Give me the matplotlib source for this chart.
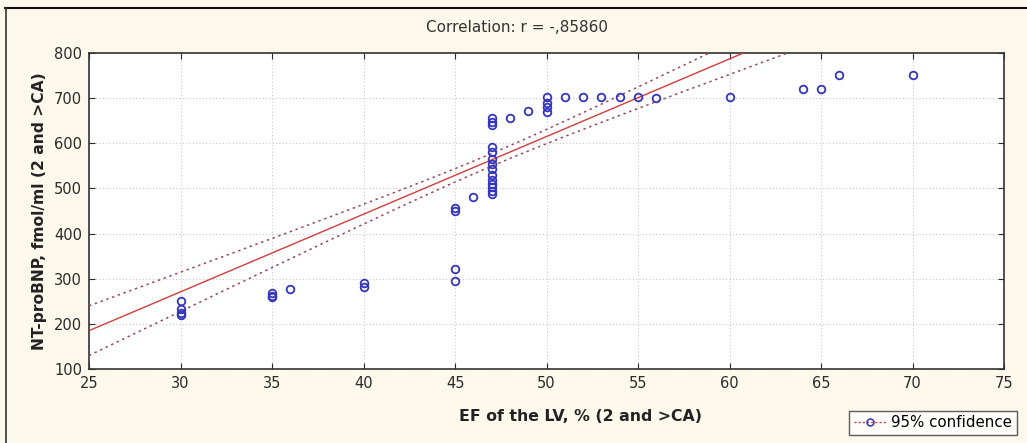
import numpy as np
import matplotlib.pyplot as plt
from matplotlib.lines import Line2D

plt.rcParams['font.family'] = ['DejaVu Sans']

# EF of the LV (%) and NT-proBNP (fmol/ml)
ef = [30, 30, 30, 30,
      35, 35, 35, 36,
      40, 40,
      45, 45, 45, 45, 46,
      47, 47, 47, 47, 47, 47, 47, 47, 47, 47, 47, 47, 47, 47,
      48, 49,
      50, 50, 50, 50,
      51, 52, 53, 54, 55, 56,
      60, 64, 65, 66, 70]
bnp = [250, 233, 223, 220,
       268, 262, 259, 278,
       290, 281,
       322, 294, 456, 450, 481,
       657, 647, 640, 592, 581, 566, 555, 544, 529, 518, 510, 503, 495, 488,
       657, 672,
       702, 690, 680, 670,
       702, 702, 702, 702, 702, 700,
       702, 721, 721, 752, 752]

# fitted line and 95% band
fit_at_25 = 185
fit_slope = 17.2
band_center = 47.0
band_min = 14.0
band_at_25 = 55.0

title = "Correlation: r = -,85860"
xlabel = "EF of the LV, % (2 and >CA)"
ylabel = "NT-proBNP, fmol/ml (2 and >CA)"
xticks = [25, 30, 35, 40, 45, 50, 55, 60, 65, 70, 75]
yticks = [100, 200, 300, 400, 500, 600, 700, 800]

bg = '#fdf8ec'
fig = plt.figure(figsize=(10.27, 4.43), dpi=100, facecolor=bg)
ax = fig.add_axes([0.0867, 0.167, 0.891, 0.7134])
ax.set_facecolor('white')

xs = np.linspace(25, 75, 200)
fit = fit_at_25 + fit_slope * (xs - 25)
b2 = (band_at_25 ** 2 - band_min ** 2) / (25 - band_center) ** 2
half = np.sqrt(band_min ** 2 + b2 * (xs - band_center) ** 2)

ax.plot(xs, fit, color='#d23c3c', lw=1.0, zorder=3)
for sign in (1, -1):
    ax.plot(xs, fit + sign * half, color='#9a4a5c', lw=1.1,
            linestyle=(0, (1.6, 2.4)), zorder=3)

ax.plot(ef, bnp, linestyle='none', marker='o', markersize=5.5,
        markerfacecolor='none', markeredgecolor='#3434bc', markeredgewidth=1.3,
        zorder=4)

ax.set_xlim(25, 75)
ax.set_ylim(100, 800)
ax.set_xticks(xticks)
ax.set_yticks(yticks)
ax.tick_params(direction='in', length=4, top=True, right=True,
               labelsize=10.5, colors='#2a2a2a', pad=5)
ax.grid(True, color='#c8c8d0', linestyle=(0, (1, 2)), lw=0.8)
for s in ax.spines.values():
    s.set_color('#333333')
    s.set_linewidth(1.2)

ax.set_xlabel(xlabel, fontsize=11.3, fontweight='bold', color='#222222', labelpad=4)
ax.xaxis.set_label_coords(0.537, -0.125)
ax.set_ylabel(ylabel, fontsize=11.2, fontweight='bold', color='#222222', labelpad=5)
fig.text(0.503, 0.937, title, ha='center', va='center', fontsize=11, color='#333333')

# outer frame lines
fig.add_artist(Line2D([0.005, 1.0], [0.982, 0.982], color='#111111', lw=1.5))
fig.add_artist(Line2D([0.0058, 0.0058], [0.0, 0.982], color='#333333', lw=1.2))

handle = Line2D([], [], color='#d23c3c', lw=1.0, linestyle=(0, (1.5, 1.5)),
                marker='o', markersize=5, markerfacecolor='none',
                markeredgecolor='#3434bc', markeredgewidth=1.1)
leg = fig.legend([handle], ['95% confidence'], loc='lower right',
                 bbox_to_anchor=(0.993, 0.012), fontsize=10.8, frameon=True,
                 fancybox=False, edgecolor='#333333', facecolor='white',
                 handlelength=2.2, handletextpad=0.3, borderpad=0.3,
                 borderaxespad=0.2)
leg.get_frame().set_linewidth(1.0)

fig.savefig('out.png', dpi=100, facecolor=bg)
